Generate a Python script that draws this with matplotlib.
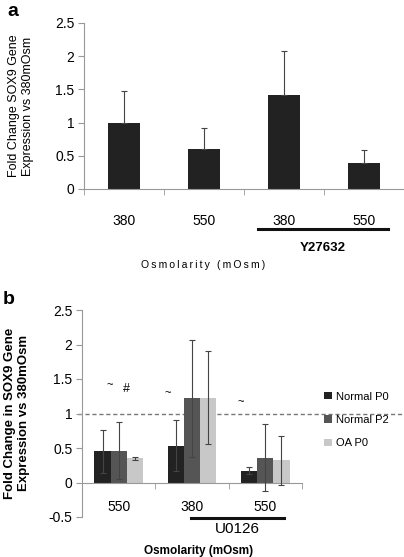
import matplotlib.pyplot as plt
import matplotlib.transforms as mtransforms
import numpy as np

plt.rcParams['font.family'] = ['Liberation Sans', 'DejaVu Sans']

# ---- panel a data ----
a_labels = ["380", "550", "380", "550"]
a_values = [1.0, 0.6, 1.42, 0.39]
a_err_up = [0.48, 0.32, 0.66, 0.20]

# ---- panel b data ----
b_labels = ["550", "380", "550"]
b_series = ["Normal P0", "Normal P2", "OA P0"]
b_colors = ["#222222", "#555555", "#c8c8c8"]
b_values = [
    [0.45, 0.53, 0.17],
    [0.46, 1.22, 0.36],
    [0.35, 1.23, 0.32],
]
b_err = [
    [0.31, 0.37, 0.05],
    [0.41, 0.85, 0.49],
    [0.02, 0.67, 0.36],
]
b_marks = [("~", -0.12, 1.41), ("#", 0.11, 1.35), ("~", 0.67, 1.29), ("~", 1.67, 1.17)]

W, H = 404, 557
fig = plt.figure(figsize=(W / 100, H / 100), dpi=100)

def px_axes(left, top, right, bottom):
    return fig.add_axes([left / W, 1 - bottom / H, (right - left) / W, (bottom - top) / H])

spine_col = "#999999"

# ================= panel a =================
ax = px_axes(84, 23, 404, 189)
xa = np.arange(len(a_values))
ax.bar(xa, a_values, width=0.4, color="#222222", zorder=2)
ax.errorbar(xa, a_values, yerr=[np.zeros(len(a_values)), a_err_up], fmt="none",
            ecolor="#444444", elinewidth=0.8, capsize=2.5, capthick=0.8, zorder=3)
ax.set_xlim(-0.5, 3.5)
ax.set_ylim(0, 2.5)
ax.set_yticks([0, 0.5, 1, 1.5, 2, 2.5])
ax.set_yticklabels(["0", "0.5", "1", "1.5", "2", "2.5"], fontsize=10)
ax.set_xticks(xa)
ax.set_xticklabels(a_labels, fontsize=10)
ax.set_xticks(np.arange(-0.5, 4, 1), minor=True)
ax.tick_params(axis="x", which="major", length=0, pad=18)
ax.tick_params(axis="x", which="minor", length=4, color=spine_col, direction="out")
ax.tick_params(axis="y", length=4, color=spine_col, pad=3)
for s in ["top", "right"]:
    ax.spines[s].set_visible(False)
for s in ["left", "bottom"]:
    ax.spines[s].set_color(spine_col)
    ax.spines[s].set_linewidth(0.8)
tr = mtransforms.blended_transform_factory(ax.transData, ax.transAxes)
ax.plot([1.675, 3.3], [-0.241, -0.241], color="#111111", lw=2.2, transform=tr, clip_on=False)
ax.text(2.49, -0.355, "Y27632", ha="center", va="center", fontsize=9.5, fontweight="bold", transform=tr)
osm = "\u2009".join("Osmolarity (mOsm)")
fig.text(203 / W, 1 - 265 / H, osm, ha="center", va="center", fontsize=7.5)
fig.text(21 / W, 1 - 106 / H, "Fold Change SOX9 Gene\nExpression vs 380mOsm", rotation=90,
         ha="center", va="center", fontsize=9, linespacing=1.25)
fig.text(13 / W, 1 - 11 / H, "a", ha="center", va="center", fontsize=14, fontweight="bold")

# ================= panel b =================
bx = px_axes(82, 310, 302, 517)
xb = np.arange(len(b_labels))
bw = 0.22
for i, name in enumerate(b_series):
    pos = xb + (i - 1) * bw
    bx.bar(pos, b_values[i], width=bw, color=b_colors[i], label=name, zorder=2)
    bx.errorbar(pos, b_values[i], yerr=b_err[i], fmt="none", ecolor="#444444",
                elinewidth=0.8, capsize=2.5, capthick=0.8, zorder=3)
bx.set_xlim(-0.5, 2.5)
bx.set_ylim(-0.5, 2.5)
bx.set_yticks([-0.5, 0, 0.5, 1, 1.5, 2, 2.5])
bx.set_yticklabels(["-0.5", "0", "0.5", "1", "1.5", "2", "2.5"], fontsize=10)
bx.spines["bottom"].set_position(("data", 0))
bx.set_xticks([])
bx.set_xticks(np.arange(0.5, 3, 1), minor=True)
bx.tick_params(axis="x", which="minor", length=4, color=spine_col, direction="out", labelbottom=False)
bx.tick_params(axis="y", length=4, color=spine_col, pad=3)
for s in ["top", "right"]:
    bx.spines[s].set_visible(False)
for s in ["left", "bottom"]:
    bx.spines[s].set_color(spine_col)
    bx.spines[s].set_linewidth(0.8)
for x, lab in zip(xb, b_labels):
    bx.text(x, -0.35, lab, ha="center", va="center", fontsize=10)
trb = bx.get_yaxis_transform()
bx.plot([-0.02, 1.459], [1, 1], color="#777777", lw=1.0, ls=(0, (3, 2)), transform=trb,
        clip_on=False, zorder=1)
for sym, x, y in b_marks:
    bx.text(x, y, sym, ha="center", va="center", fontsize=9 if sym == "#" else 8)
trb2 = mtransforms.blended_transform_factory(bx.transData, bx.transAxes)
bx.plot([0.993, 2.25], [-0.005, -0.005], color="#111111", lw=2.2, transform=trb2, clip_on=False)
bx.text(1.62, -0.058, "U0126", ha="center", va="center", fontsize=11, transform=trb2)
fig.text(199 / W, 1 - 551 / H, "Osmolarity (mOsm)", ha="center", va="center", fontsize=8.5,
         fontweight="bold")
fig.text(17 / W, 1 - 413 / H, "Fold Change in SOX9 Gene\nExpression vs 380mOsm", rotation=90,
         ha="center", va="center", fontsize=9.5, fontweight="bold", linespacing=1.3)
fig.text(9 / W, 1 - 300 / H, "b", ha="center", va="center", fontsize=14, fontweight="bold")

bx.legend(loc="center left", bbox_to_anchor=(320 / W, 1 - 420 / H), bbox_transform=fig.transFigure,
          frameon=False, fontsize=8, handlelength=0.65, handleheight=0.65, handletextpad=0.4,
          labelspacing=1.2, borderaxespad=0)

fig.savefig("out.png", dpi=100)
